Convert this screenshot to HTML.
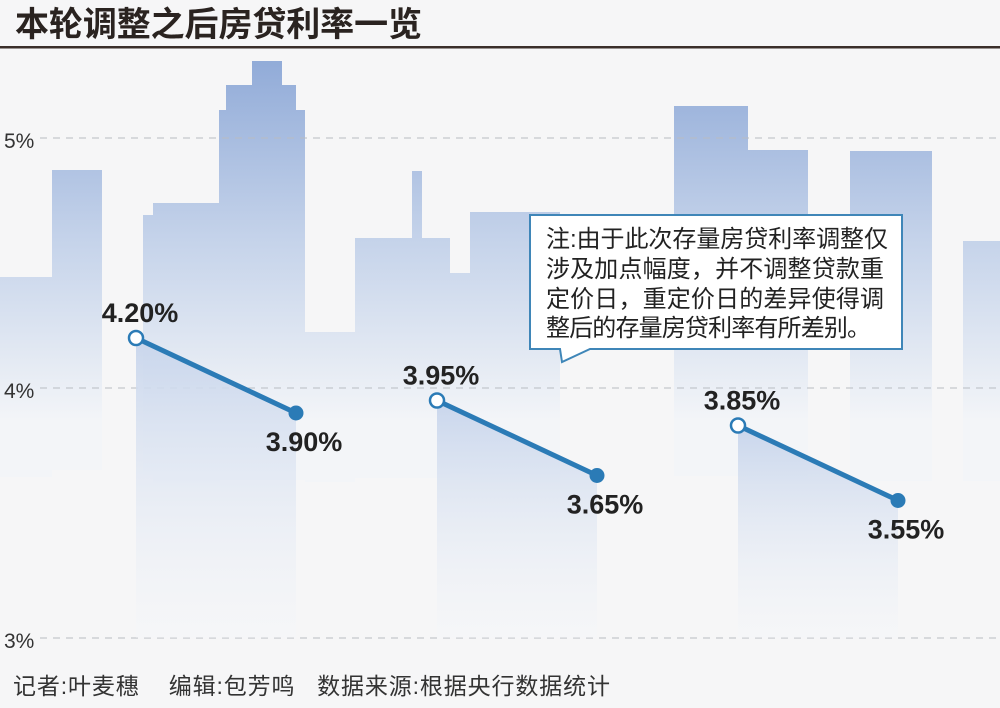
<!DOCTYPE html>
<html><head><meta charset="utf-8"><style>
html,body{margin:0;padding:0;background:#f6f6f7;}
svg{display:block;font-family:"Liberation Sans","Noto Sans CJK SC",sans-serif;}
</style></head><body>
<svg id="chart" width="1000" height="708" viewBox="0 0 1000 708">
<defs>
<linearGradient id="bld" x1="0" y1="60" x2="0" y2="420" gradientUnits="userSpaceOnUse">
<stop offset="0" stop-color="#91abd8"/><stop offset="0.5" stop-color="#c5d3ea"/><stop offset="1" stop-color="#f3f5f8"/>
</linearGradient>
<linearGradient id="area" x1="0" y1="0" x2="0" y2="1">
<stop offset="0" stop-color="#c9d6ec"/><stop offset="1" stop-color="#f4f6f9" stop-opacity="0.3"/>
</linearGradient>
</defs>
<rect width="1000" height="708" fill="#f6f6f7"/>
<g fill="url(#bld)">
<rect x="0" y="277" width="52" height="200"/>
<rect x="52" y="170" width="50" height="300"/>
<rect x="143" y="215" width="12" height="260"/>
<rect x="153" y="203" width="67" height="280"/>
<rect x="219" y="110" width="86" height="370"/>
<rect x="226" y="85" width="70" height="30"/>
<rect x="252" y="61" width="30" height="30"/>
<rect x="305" y="332" width="50" height="150"/>
<rect x="355" y="238" width="95" height="240"/>
<rect x="412" y="171" width="10" height="70"/>
<rect x="450" y="273" width="20" height="200"/>
<rect x="470" y="212" width="90" height="270"/>
<rect x="674" y="106" width="74" height="370"/>
<rect x="748" y="150" width="60" height="330"/>
<rect x="850" y="151" width="82" height="330"/>
<rect x="963" y="241" width="37" height="240"/>
</g>
<g id="grid"></g>
<g id="areas"></g>
<g id="lines"></g>
<g id="labels"></g>
<text x="15" y="36" font-size="34" font-weight="bold" fill="#2a2320" textLength="407">本轮调整之后房贷利率一览</text>
<rect x="0" y="46" width="1000" height="2.5" fill="#3b2f2a"/>
<g>
<path d="M530,215 H902 V349 H590 L562,362 L560,349 H530 Z" fill="#ffffff" stroke="#3f86b8" stroke-width="2"/>
<g font-size="24" fill="#222">
<text x="546" y="247" textLength="342">注:由于此次存量房贷利率调整仅</text>
<text x="546" y="277" textLength="338">涉及加点幅度，并不调整贷款重</text>
<text x="546" y="307" textLength="338">定价日，重定价日的差异使得调</text>
<text x="546" y="336" textLength="325">整后的存量房贷利率有所差别。</text>
</g>
</g>
<text x="13" y="694" font-size="23" fill="#333" textLength="597" xml:space="preserve">记者:叶麦穗    编辑:包芳鸣   数据来源:根据央行数据统计</text>
<script>
const groups=['g1','g2','g3'];
const beforeRates=[4.20,3.95,3.85];
const afterRates=[3.90,3.65,3.55];
const tickValues=[3,4,5];
const tickLabels=['3%','4%','5%'];
const groupStartX=[136,437,738];
const y=v=>388-(v-4)*250;
const NS='http://www.w3.org/2000/svg';
function mk(tag,attrs,parent){const e=document.createElementNS(NS,tag);for(const k in attrs)e.setAttribute(k,attrs[k]);document.getElementById(parent).appendChild(e);return e;}
tickValues.forEach((t,i)=>{
 const l=mk('line',{x1:40,x2:1000,y1:y(t),y2:y(t),stroke:'#b8bcc2','stroke-width':1,'stroke-dasharray':'7,6'},'grid');
 
 
 const tx=mk('text',{x:4,y:y(t)+10,'font-size':21,fill:'#333'},'grid');
 tx.textContent=tickLabels[i];
 
 
});
groups.forEach((g,i)=>{
 const x1=groupStartX[i],x2=x1+160,y1=y(beforeRates[i]),y2=y(afterRates[i]),yb=y(3);
 const a=mk('polygon',{points:`${x1},${y1} ${x2},${y2} ${x2},${yb} ${x1},${yb}`,fill:'url(#area)'},'areas');
 
 
 const ln=mk('line',{x1:x1,y1:y1,x2:x2,y2:y2,stroke:'#2b7bb6','stroke-width':5},'lines');
 
 
 const c1=mk('circle',{cx:x1,cy:y1,r:7,fill:'#fff',stroke:'#2b7bb6','stroke-width':2.5},'lines');
 
 
 const c2=mk('circle',{cx:x2,cy:y2,r:7.5,fill:'#2b7bb6'},'lines');
 
 
 const t1=mk('text',{x:x1+4,y:y1-16,'font-size':27,'font-weight':'bold',fill:'#222','text-anchor':'middle'},'labels');
 t1.textContent=beforeRates[i].toFixed(2)+'%';
 
 
 const t2=mk('text',{x:x2+8,y:y2+38,'font-size':27,'font-weight':'bold',fill:'#222','text-anchor':'middle'},'labels');
 t2.textContent=afterRates[i].toFixed(2)+'%';
 
 
});
</script>
</svg>
</body></html>
